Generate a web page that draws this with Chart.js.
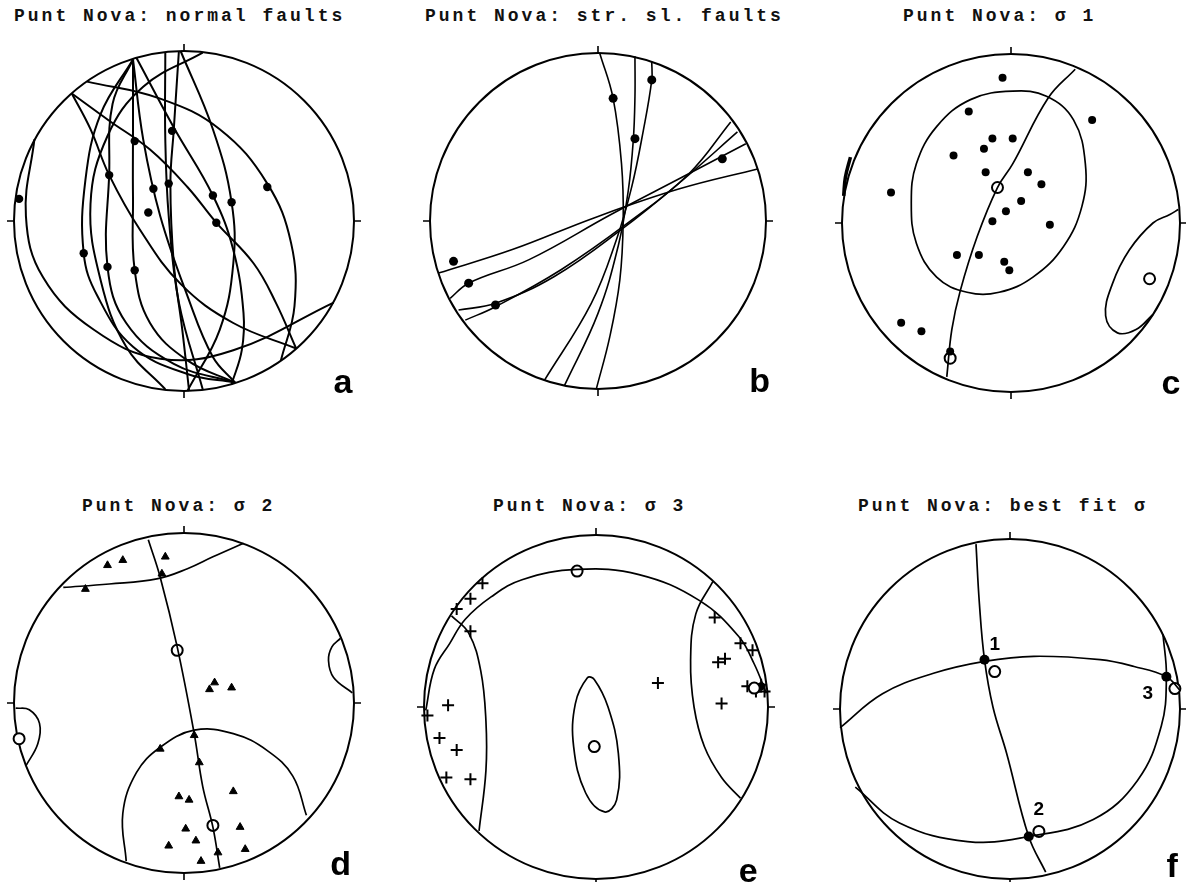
<!DOCTYPE html>
<html>
<head>
<meta charset="utf-8">
<script src="https://cdn.jsdelivr.net/npm/chart.js@4.4.1/dist/chart.umd.min.js"></script>
<style>
  html, body { margin: 0; padding: 0; background: #fff; }
  #page { position: relative; width: 1186px; height: 882px; overflow: hidden; background: #fff; }
  .title { position: absolute; font: bold 18px "Liberation Mono", "DejaVu Sans Mono", monospace;
           letter-spacing: 3px; line-height: 18px; white-space: nowrap; color: #111; }
  .panel { position: absolute; }
</style>
</head>
<body>
<div id="page"></div>
<script>
// all positions are stereonet coordinates: percent of the primitive radius (x = east, y = north)

// a - normal faults: great circles and striae
var normalFaultPlanes = [
    [[-57,82],[-14,72],[21,54],[49,22],[63,-13],[65,-50],[57,-82]],
    [[-66,75],[-44,59],[-20,42],[2,20],[19,-1],[41,-25],[54,-48],[66,-75]],
    [[-66,75],[-55,54],[-44,27],[-26,-5],[-2,-37],[29,-60],[66,-75]],
    [[-88,48],[-93,3],[-83,-33],[-53,-64],[-14,-81],[29,-76],[88,-48]],
    [[-30,95],[-49,63],[-58,24],[-59,-19],[-51,-44],[-30,-74],[2,-90],[30,-95]],
    [[-30,95],[-42,69],[-44,28],[-45,-27],[-34,-60],[-6,-84],[30,-95]],
    [[-30,95],[-30,54],[-30,14],[-29,-29],[-20,-60],[2,-82],[30,-95]],
    [[-30,95],[-24,48],[-14,3],[2,-44],[17,-80],[30,-95]],
    [[-28,96],[-6,55],[17,15],[29,-17],[35,-54],[34,-76],[28,-96]],
    [[-11,99],[-11,48],[-9,3],[-3,-48],[11,-99]],
    [[-3,100],[-6,54],[-8,22],[-6,-25],[-1,-64],[3,-100]],
    [[-2,100],[17,54],[28,11],[29,-25],[21,-64],[2,-100]],
    [[11,99],[-24,79],[-45,50],[-55,10],[-49,-35],[-34,-74],[-11,-99]]
];
var normalFaultStriae = [[-97,13],[-44,27],[-29,47],[-7,53],[-18,19],[-9,22],[-21,5],
    [17,15],[28,11],[19,-1],[49,20],[-59,-19],[-45,-27],[-29,-29]];

// b - strike-slip faults
var strikeSlipPlanes = [
    [[1,100],[9,73],[14,34],[15,0],[13,-35],[7,-69],[-1,-100]],
    [[22,98],[22,74],[21,48],[18,18],[12,-15],[0,-55],[-20,-98]],
    [[32,95],[32,84],[27,54],[20,20],[11,-11],[-4,-49],[-32,-95]],
    [[-95,-31],[-51,-17],[-2,2],[48,19],[95,31]],
    [[-88,-46],[-77,-37],[-41,-23],[8,4],[50,26],[88,46]],
    [[-83,-53],[-61,-49],[-26,-33],[14,-5],[50,24],[83,53]],
    [[-79,-59],[-61,-51],[-22,-29],[18,-1],[54,28],[79,59]]
];
var strikeSlipStriae = [[9,73],[32,84],[22,49],[74,37],[-86,-24],[-77,-37],[-61,-50]];

// c - sigma 1
var sigma1Points = [[-5,86],[-25,66],[48,61],[-11,50],[1,50],[-16,44],[-34,40],[-15,30],[10,30],
    [18,23],[-71,18],[6,13],[-3,7],[-11,1],[23,-1],[-32,-19],[-19,-19],[-4,-23],[-1,-28],
    [-65,-59],[-53,-64],[-36,-76]];
var sigma1Contours = [
    [[1,78],[21,75],[37,61],[44,35],[42,10],[31,-14],[13,-32],[-7,-41],[-26,-41],[-44,-32],
     [-56,-12],[-59,12],[-56,35],[-44,57],[-24,73],[1,78]],
    [[99,8],[94,5],[84,0],[70,-16],[60,-36],[56,-55],[63,-65],[74,-63],[84,-54]],
    [[-95,39],[-98,27],[-99,16]]
];
var sigma1Plane = [[38,91],[22,74],[1,35],[-8,21],[-20,-8],[-30,-40],[-35,-63],[-38,-91]];
var sigma1Axes = [[-8,21],[-36,-80]];
var sigma1Target = [[82,-33]];

// d - sigma 2
var sigma2Points = [[-45,81],[-36,84],[-11,86],[-13,76],[-58,67],[18,12],[15,8],[28,9],[6,-19],
    [-14,-27],[9,-35],[-3,-55],[3,-57],[29,-52],[1,-74],[7,-81],[33,-73],[-9,-84],[10,-93],
    [20,-88],[36,-86]];
var sigma2Contours = [
    [[-71,68],[-44,70],[-16,73],[2,79],[17,86],[35,94]],
    [[-34,-93],[-36,-65],[-28,-41],[-14,-26],[6,-16],[29,-18],[49,-28],[64,-43],[72,-66]],
    [[-99,-3],[-91,-4],[-85,-12],[-86,-24],[-93,-37]],
    [[92,38],[87,33],[85,25],[88,15],[99,6]]
];
var sigma2Plane = [[-21,96],[-14,74],[-4,33],[6,-18],[11,-49],[17,-73],[21,-97]];
var sigma2Axes = [[-4,31],[17,-72],[-97,-21]];

// e - sigma 3
var sigma3Points = [[-66,72],[-73,63],[-81,57],[-73,44],[-86,1],[-98,-5],[-91,-18],[-81,-25],
    [-87,-41],[-73,-42],[36,14],[69,52],[84,37],[91,33],[71,26],[75,28],[73,2],[88,12],[93,9],
    [96,13],[98,9]];
var sigma3Contours = [
    [[-84,53],[-74,43],[-67,21],[-64,-8],[-64,-37],[-68,-72]],
    [[68,73],[58,54],[55,27],[57,0],[63,-23],[73,-41],[84,-53]],
    [[-12,2],[-13,-23],[-6,-50],[5,-61],[12,-54],[13,-27],[7,0],[-1,16],[-5,17],[-12,2]]
];
var sigma3Plane = [[-99,-2],[-94,22],[-85,37],[-76,51],[-61,64],[-43,74],[-11,80],[25,77],
    [60,62],[83,41],[92,25],[99,8]];
var sigma3Axes = [[-11,79],[-1,-23],[92,11]];
var sigma3Solid = [[96,12]];

// f - best fit sigma
var bestFitPlanes = [
    [[-20,97],[-18,62],[-15,29],[-10,1],[-2,-26],[11,-75],[21,-96]],
    [[-100,-11],[-75,9],[-45,21],[-15,28],[14,31],[53,29],[73,25],[92,19],[100,11]],
    [[90,44],[92,19],[89,-10],[75,-42],[49,-65],[11,-75],[-25,-78],[-65,-67],[-91,-46]]
];
var bestFitAxes = [[-15,29],[92,19],[11,-75]];
var bestFitMeans = [[-9,22],[97,12],[17,-72]];
var bestFitNames = ["1", "2", "3"];
var bestFitNamePos = [[-9,38],[17,-59],[81,9]];

var titles = [
    "Punt Nova: normal faults",
    "Punt Nova: str. sl. faults",
    "Punt Nova: \u03c3 1",
    "Punt Nova: \u03c3 2",
    "Punt Nova: \u03c3 3",
    "Punt Nova: best fit \u03c3"
];

//===============================================================
function xy(p) { return { x: p[0], y: p[1] }; }

// closed contours (first point == last point) are wrapped one point each way,
// and the two outer helper segments are not stroked, so the join stays smooth
function curve(pts, w) {
    var set = { showLine: true, pointRadius: 0, borderColor: "#000", borderWidth: w,
                tension: 0.4, fill: false, clip: false };
    var n = pts.length;
    if (n > 3 && pts[0][0] == pts[n - 1][0] && pts[0][1] == pts[n - 1][1]) {
        var ring = pts.slice(0, n - 1);
        var list = [ring[ring.length - 1]].concat(ring, [ring[0], ring[1]]);
        var last = list.length - 1;
        set.data = list.map(xy);
        set.segment = {
            borderColor: function (c) {
                return (c.p0DataIndex === 0 || c.p1DataIndex === last) ? "rgba(0,0,0,0)" : undefined;
            }
        };
    } else {
        set.data = pts.map(xy);
    }
    return set;
}
function dots(pts, r) {
    return { data: pts.map(xy), showLine: false, pointStyle: "circle", pointRadius: r,
             backgroundColor: "#000", borderColor: "#000", borderWidth: 0, clip: false };
}
function rings(pts, r) {
    return { data: pts.map(xy), showLine: false, pointStyle: "circle", pointRadius: r,
             backgroundColor: "#fff", borderColor: "#000", borderWidth: 2, clip: false };
}
function triangles(pts, r) {
    return { data: pts.map(xy), showLine: false, pointStyle: "triangle", pointRadius: r,
             backgroundColor: "#000", borderColor: "#000", borderWidth: 1, clip: false };
}
function crosses(pts, r) {
    return { data: pts.map(xy), showLine: false, pointStyle: "cross", pointRadius: r,
             backgroundColor: "#000", borderColor: "#000", borderWidth: 2, clip: false };
}

// primitive circle, N/E/S/W ticks, numbers and the panel letter
var stereoFrame = {
    id: "stereoFrame",
    beforeDatasetsDraw: function (chart, args, opts) {
        var sx = chart.scales.x, sy = chart.scales.y, ctx = chart.ctx;
        var cx = sx.getPixelForValue(0), cy = sy.getPixelForValue(0);
        var r = sx.getPixelForValue(100) - cx;
        var t = 7;
        ctx.save();
        ctx.strokeStyle = "#000";
        ctx.lineWidth = 2;
        ctx.beginPath();
        ctx.arc(cx, cy, r, 0, Math.PI * 2);
        ctx.stroke();
        ctx.lineWidth = 1.6;
        ctx.beginPath();
        ctx.moveTo(cx, cy - r); ctx.lineTo(cx, cy - r - t);
        ctx.moveTo(cx, cy + r); ctx.lineTo(cx, cy + r + t);
        ctx.moveTo(cx - r, cy); ctx.lineTo(cx - r - t, cy);
        ctx.moveTo(cx + r, cy); ctx.lineTo(cx + r + t, cy);
        ctx.stroke();
        ctx.restore();
    },
    afterDatasetsDraw: function (chart, args, opts) {
        var sx = chart.scales.x, sy = chart.scales.y, ctx = chart.ctx;
        ctx.save();
        ctx.fillStyle = "#000";
        (opts.names || []).forEach(function (n, i) {
            var p = opts.namePos[i];
            ctx.font = "bold 19px 'Liberation Sans', Arial, sans-serif";
            ctx.textAlign = "center";
            ctx.textBaseline = "middle";
            ctx.fillText(n, sx.getPixelForValue(p[0]), sy.getPixelForValue(p[1]));
        });
        if (opts.letter) {
            ctx.font = "bold 34px 'Liberation Sans', Arial, sans-serif";
            ctx.textAlign = "left";
            ctx.textBaseline = "alphabetic";
            ctx.fillText(opts.letter[0], sx.getPixelForValue(opts.letter[1]), sy.getPixelForValue(opts.letter[2]));
        }
        ctx.restore();
    }
};

var page = document.getElementById("page");
var pad = 24;

function makePanel(geo, datasets, frame) {
    var box = document.createElement("div");
    box.className = "panel";
    box.style.left = (geo.cx - geo.r - pad) + "px";
    box.style.top = (geo.cy - geo.r - pad) + "px";
    box.style.width = (2 * geo.r + 2 * pad) + "px";
    box.style.height = (2 * geo.r + 2 * pad) + "px";
    var cv = document.createElement("canvas");
    box.appendChild(cv);
    page.appendChild(box);
    return new Chart(cv, {
        type: "scatter",
        data: { datasets: datasets },
        options: {
            responsive: true,
            maintainAspectRatio: false,
            animation: false,
            events: [],
            layout: { padding: pad },
            scales: {
                x: { type: "linear", min: -100, max: 100, display: false },
                y: { type: "linear", min: -100, max: 100, display: false }
            },
            plugins: { legend: { display: false }, tooltip: { enabled: false }, stereoFrame: frame }
        },
        plugins: [stereoFrame]
    });
}

function addTitle(text, left, top) {
    var d = document.createElement("div");
    d.className = "title";
    d.textContent = text;
    d.style.left = left + "px";
    d.style.top = top + "px";
    page.appendChild(d);
}

addTitle(titles[0], 14, 7);
addTitle(titles[1], 425, 7);
addTitle(titles[2], 903, 7);
addTitle(titles[3], 82, 497);
addTitle(titles[4], 493, 497);
addTitle(titles[5], 858, 497);

// a
makePanel({ cx: 184, cy: 221, r: 170 },
    normalFaultPlanes.map(function (p) { return curve(p, 2); })
        .concat([dots(normalFaultStriae, 4.2)]),
    { letter: ["a", 88, -101] });

// b
makePanel({ cx: 598, cy: 221, r: 168 },
    strikeSlipPlanes.map(function (p) { return curve(p, 1.6); })
        .concat([dots(strikeSlipStriae, 4.5)]),
    { letter: ["b", 90, -102] });

// c
var cContours = sigma1Contours.map(function (p) { return curve(p, 1.7); });
cContours[2].borderWidth = 3.5;
makePanel({ cx: 1011, cy: 223, r: 169 },
    cContours.concat([curve(sigma1Plane, 1.7), dots(sigma1Points, 4),
        rings(sigma1Axes, 5.5), rings(sigma1Target, 5.5), dots(sigma1Target, 1.5)]),
    { letter: ["c", 89, -101] });

// d
makePanel({ cx: 184, cy: 703, r: 170 },
    sigma2Contours.map(function (p) { return curve(p, 1.7); })
        .concat([curve(sigma2Plane, 1.7), triangles(sigma2Points, 4.5), rings(sigma2Axes, 5.5)]),
    { letter: ["d", 86, -101] });

// e
makePanel({ cx: 596, cy: 707, r: 172 },
    sigma3Contours.map(function (p) { return curve(p, 1.7); })
        .concat([curve(sigma3Plane, 1.7), rings(sigma3Axes, 5.5), crosses(sigma3Points, 6),
            dots(sigma3Solid, 4)]),
    { letter: ["e", 83, -102] });

// f
makePanel({ cx: 1010, cy: 709, r: 170 },
    bestFitPlanes.map(function (p) { return curve(p, 1.7); })
        .concat([rings(bestFitMeans, 5.5), dots(bestFitAxes, 5)]),
    { letter: ["f", 92, -99], names: bestFitNames, namePos: bestFitNamePos });
</script>
</body>
</html>
